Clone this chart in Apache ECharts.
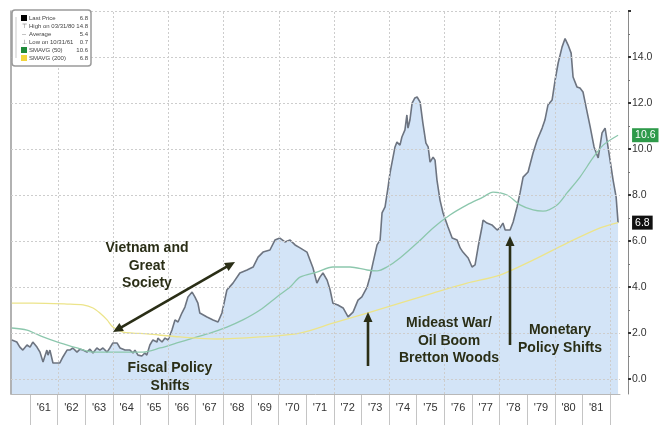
<!DOCTYPE html>
<html>
<head>
<meta charset="utf-8">
<title>Inflation 1961-1982</title>
<script src="https://cdn.jsdelivr.net/npm/echarts@6/dist/echarts.min.js"></script>
<style>
  html, body { margin: 0; padding: 0; background: #fff; }
  #main { width: 667px; height: 425px; }
</style>
</head>
<body>
<div id="main"></div>
<script>
// year strip under the plot
var yearLabels = ["'61", "'62", "'63", "'64", "'65", "'66", "'67", "'68", "'69", "'70", "'71",
  "'72", "'73", "'74", "'75", "'76", "'77", "'78", "'79", "'80", "'81"]

// last price, x = fractional year, y = value
var priceX = [1960.33, 1960.51, 1960.62, 1960.73, 1960.88, 1960.99, 1961.09, 1961.24, 1961.35, 1961.46,
  1961.60, 1961.64, 1961.71, 1961.82, 1961.96, 1962.07, 1962.18, 1962.33, 1962.43, 1962.54,
  1962.69, 1962.80, 1962.91, 1963.05, 1963.16, 1963.27, 1963.41, 1963.52, 1963.63, 1963.78,
  1963.88, 1963.99, 1964.14, 1964.25, 1964.43, 1964.61, 1964.72, 1964.79, 1964.90, 1965.04,
  1965.15, 1965.22, 1965.33, 1965.44, 1965.59, 1965.62, 1965.77, 1965.88, 1965.99, 1966.13,
  1966.24, 1966.35, 1966.49, 1966.60, 1966.71, 1966.86, 1966.96, 1967.07, 1967.14, 1967.40,
  1967.62, 1967.80, 1967.94, 1968.12, 1968.34, 1968.59, 1968.85, 1969.07, 1969.25, 1969.43,
  1969.68, 1969.86, 1970.04, 1970.22, 1970.41, 1970.59, 1970.77, 1971.02, 1971.24, 1971.38,
  1971.49, 1971.60, 1971.75, 1971.86, 1971.96, 1972.14, 1972.33, 1972.51, 1972.69, 1972.87,
  1973.01, 1973.20, 1973.30, 1973.41, 1973.56, 1973.67, 1973.74, 1973.85, 1973.96, 1974.03,
  1974.21, 1974.28, 1974.39, 1974.46, 1974.57, 1974.64, 1974.68, 1974.75, 1974.83, 1974.93,
  1975.01, 1975.12, 1975.22, 1975.33, 1975.41, 1975.48, 1975.59, 1975.66, 1975.73, 1975.84,
  1975.95, 1976.13, 1976.28, 1976.46, 1976.57, 1976.67, 1976.86, 1977.00, 1977.11, 1977.22,
  1977.36, 1977.40, 1977.54, 1977.72, 1977.91, 1978.01, 1978.12, 1978.20, 1978.38, 1978.49,
  1978.63, 1978.74, 1978.85, 1979.03, 1979.21, 1979.36, 1979.54, 1979.64, 1979.75, 1979.90,
  1980.01, 1980.12, 1980.26, 1980.37, 1980.48, 1980.59, 1980.66, 1980.80, 1980.91, 1981.02,
  1981.13, 1981.28, 1981.42, 1981.57, 1981.71, 1981.82, 1981.89, 1982.00, 1982.11, 1982.22,
  1982.29]
var priceY = [1.70, 1.61, 1.39, 1.26, 1.48, 1.39, 1.61, 1.39, 1.17, 0.74,
  1.26, 1.04, 1.26, 0.70, 0.70, 0.70, 0.96, 1.26, 1.26, 1.35,
  1.17, 1.30, 1.26, 1.17, 1.30, 1.13, 1.35, 1.26, 1.35, 1.17,
  1.35, 1.57, 1.57, 1.35, 1.26, 1.26, 1.13, 1.26, 1.04, 1.00,
  1.13, 1.04, 1.48, 1.70, 1.61, 1.78, 1.61, 1.78, 1.70, 2.13,
  2.57, 2.48, 2.87, 3.13, 3.57, 3.78, 3.57, 3.30, 2.87, 2.70,
  2.57, 2.48, 2.87, 3.87, 4.17, 4.61, 4.74, 4.87, 5.30, 5.52,
  5.61, 6.04, 6.13, 5.96, 6.04, 5.83, 5.70, 5.52, 4.83, 4.17,
  4.43, 4.61, 4.30, 3.87, 3.30, 3.22, 3.09, 2.70, 2.91, 3.43,
  3.57, 4.00, 4.43, 5.04, 5.83, 6.04, 7.22, 7.48, 8.35, 8.96,
  10.09, 10.30, 10.17, 10.52, 10.83, 11.48, 10.91, 11.26, 12.00, 12.22,
  12.26, 12.04, 11.13, 10.26, 10.09, 9.43, 9.65, 9.52, 8.65, 7.78,
  7.22, 6.61, 6.13, 6.04, 5.70, 5.52, 5.26, 4.87, 4.96, 5.74,
  6.61, 6.91, 6.78, 6.70, 6.48, 6.57, 6.78, 6.48, 6.48, 6.83,
  7.48, 8.09, 8.78, 9.00, 9.83, 10.39, 10.91, 11.26, 11.91, 12.13,
  13.00, 13.74, 14.43, 14.80, 14.52, 14.17, 13.13, 12.70, 12.65, 12.48,
  11.83, 10.96, 10.09, 9.61, 10.70, 10.91, 10.83, 9.52, 8.65, 7.91,
  6.80]

// moving averages
var sma50X = [1960.33, 1960.88, 1961.46, 1962.07, 1962.69, 1963.27, 1963.88, 1964.50, 1965.08, 1965.70,
  1966.31, 1966.89, 1967.51, 1968.12, 1968.70, 1969.32, 1969.93, 1970.41, 1970.77, 1971.38,
  1971.96, 1972.58, 1973.20, 1973.56, 1973.92, 1974.39, 1975.01, 1975.59, 1976.20, 1976.82,
  1977.40, 1977.76, 1978.27, 1978.74, 1979.21, 1979.57, 1980.08, 1980.44, 1980.91, 1981.38,
  1981.75, 1982.29]
var sma50Y = [2.22, 2.13, 1.83, 1.57, 1.35, 1.17, 1.17, 1.17, 1.17, 1.35,
  1.57, 1.78, 2.00, 2.26, 2.57, 3.00, 3.57, 4.00, 4.43, 4.65,
  4.87, 4.87, 4.74, 4.70, 4.87, 5.26, 5.91, 6.57, 7.13, 7.57,
  7.91, 8.13, 8.00, 7.57, 7.35, 7.30, 7.57, 8.09, 8.78, 9.61,
  10.17, 10.60]
var sma200X = [1960.33, 1961.09, 1962.33, 1962.91, 1963.27, 1963.52, 1963.78, 1963.99, 1964.36, 1964.72,
  1965.22, 1966.42, 1967.76, 1969.32, 1970.77, 1971.96, 1973.20, 1974.39, 1975.59, 1976.82,
  1978.01, 1979.21, 1980.44, 1981.64, 1982.29]
var sma200Y = [3.30, 3.30, 3.26, 3.22, 3.09, 2.87, 2.57, 2.26, 2.04, 2.00,
  1.96, 1.83, 1.74, 1.83, 2.00, 2.43, 2.87, 3.30, 3.74, 4.17,
  4.52, 5.17, 5.91, 6.57, 6.80]

// axis ticks / grid
var gridYears = [1962, 1964, 1966, 1968, 1970, 1972, 1974, 1976, 1978, 1980, 1982]
var majorTicks = [0, 2, 4, 6, 8, 10, 12, 14, 16]
var minorTicks = [1, 3, 5, 7, 9, 11, 13, 15]
var labelTicks = [0, 2, 4, 6, 8, 10, 12, 14]

// legend box
var legendNames = ['Last Price', 'High on 03/31/80', 'Average', 'Low on 10/31/61', 'SMAVG (50)', 'SMAVG (200)']
var legendValues = ['6.8', '14.8', '5.4', '0.7', '10.6', '6.8']

var INK = '#2a2e16'
var FONT = '"Liberation Sans", Arial, sans-serif'
var GRID = { color: '#cdcdcd', type: [2, 2], width: 1 }

function pairs (xs, ys) {
  return xs.map(function (x, i) { return [x, ys[i]] })
}

function arrow (x1, y1, x2, y2, both) {
  // shaft from (x1,y1) to head at (x2,y2)
  var ang = Math.atan2(y2 - y1, x2 - x1)
  var len = 10
  var half = 4.5
  var els = []
  function head (x, y, a) {
    var bx = x - len * Math.cos(a)
    var by = y - len * Math.sin(a)
    var px = -Math.sin(a) * half
    var py = Math.cos(a) * half
    return {
      type: 'polygon',
      z: 50,
      shape: { points: [[x, y], [bx + px, by + py], [bx - px, by - py]] },
      style: { fill: INK }
    }
  }
  var sx = both ? x1 + (len - 2) * Math.cos(ang) : x1
  var sy = both ? y1 + (len - 2) * Math.sin(ang) : y1
  els.push({
    type: 'line',
    z: 50,
    shape: { x1: sx, y1: sy, x2: x2 - (len - 2) * Math.cos(ang), y2: y2 - (len - 2) * Math.sin(ang) },
    style: { stroke: INK, lineWidth: 2.6 }
  })
  els.push(head(x2, y2, ang))
  if (both) els.push(head(x1, y1, ang + Math.PI))
  return els
}

function note (text, x, y) {
  return {
    type: 'text',
    z: 50,
    x: x,
    y: y,
    style: {
      text: text,
      fill: INK,
      font: 'bold 14px ' + FONT,
      align: 'center',
      verticalAlign: 'middle'
    }
  }
}

var graphics = []
// legend
graphics.push({
  type: 'rect',
  z: 50,
  shape: { x: 12, y: 10, width: 79, height: 56, r: 3 },
  style: { fill: '#fff', stroke: '#9a9a9a', lineWidth: 1.5 }
})
graphics.push({
  type: 'line',
  z: 51,
  shape: { x1: 16, y1: 17, x2: 16, y2: 58 },
  style: { stroke: '#bbb', lineWidth: 0.8 }
})
var markerFill = ['#000', null, null, null, '#1f8a3a', '#f2d53c']
var markerText = ['', '\u22a4', '--', '\u22a5', '', '']
legendNames.forEach(function (name, i) {
  var y = 18 + i * 8
  if (markerFill[i]) {
    graphics.push({
      type: 'rect', z: 51,
      shape: { x: 21, y: y - 3, width: 6, height: 6 },
      style: { fill: markerFill[i] }
    })
  } else {
    graphics.push({
      type: 'text', z: 51, x: 24, y: y,
      style: { text: markerText[i], fill: '#666', font: '6px ' + FONT, align: 'center', verticalAlign: 'middle' }
    })
  }
  graphics.push({
    type: 'text', z: 51, x: 29, y: y,
    style: { text: name, fill: '#444', font: '6px ' + FONT, align: 'left', verticalAlign: 'middle' }
  })
  graphics.push({
    type: 'text', z: 51, x: 88, y: y,
    style: { text: legendValues[i], fill: '#444', font: '6px ' + FONT, align: 'right', verticalAlign: 'middle' }
  })
})

// annotations
graphics.push(note('Vietnam and', 147, 248))
graphics.push(note('Great', 147, 266))
graphics.push(note('Society', 147, 283))
graphics.push(note('Fiscal Policy', 170, 368))
graphics.push(note('Shifts', 170, 386))
graphics.push(note('Mideast War/', 449, 323))
graphics.push(note('Oil Boom', 449, 341))
graphics.push(note('Bretton Woods', 449, 358))
graphics.push(note('Monetary', 560, 330))
graphics.push(note('Policy Shifts', 560, 348))
graphics = graphics.concat(arrow(113, 332, 235, 262, true))
graphics = graphics.concat(arrow(368, 366, 368, 312, false))
graphics = graphics.concat(arrow(510, 345, 510, 236, false))

// dotted grid lines as mark lines
var gridLines = majorTicks.map(function (v) { return { yAxis: v } })
  .concat(gridYears.map(function (v) { return { xAxis: v } }))

var myChart = echarts.init(document.getElementById('main'))
var option = {
  animation: false,
  backgroundColor: '#fff',
  textStyle: { fontFamily: FONT },
  grid: [
    { left: 11, right: 47, top: 11, bottom: 31 },
    { left: 30, right: 57, top: 394, height: 31 }
  ],
  xAxis: [
    {
      type: 'value',
      gridIndex: 0,
      min: 1960.3,
      max: 1982.36,
      axisLine: { show: true, onZero: false, lineStyle: { color: '#b8b8b8' } },
      axisTick: { show: false },
      axisLabel: { show: false },
      splitLine: { show: false }
    },
    {
      type: 'category',
      gridIndex: 1,
      position: 'top',
      data: yearLabels,
      axisLine: { show: false },
      axisTick: { show: false },
      axisLabel: { inside: true, margin: 8, color: '#333', fontSize: 11, interval: 0 },
      splitLine: { show: true, interval: 0, lineStyle: { color: '#c4c4c4' } }
    }
  ],
  yAxis: [
    {
      type: 'value',
      gridIndex: 0,
      position: 'right',
      offset: 8,
      min: -0.65,
      max: 16,
      axisLine: { show: true, lineStyle: { color: '#8a8a8a' } },
      axisTick: { show: true, customValues: majorTicks, length: 3, lineStyle: { color: '#333', width: 2 } },
      axisLabel: {
        customValues: labelTicks,
        color: '#333',
        fontSize: 10.5,
        margin: 4,
        formatter: function (v) { return v.toFixed(1) }
      },
      splitLine: { show: false }
    },
    {
      type: 'value',
      gridIndex: 0,
      position: 'right',
      offset: 8,
      min: -0.65,
      max: 16,
      axisLine: { show: false },
      axisTick: { show: true, customValues: minorTicks, length: 2, lineStyle: { color: '#777' } },
      axisLabel: { show: false },
      splitLine: { show: false }
    },
    {
      type: 'value',
      gridIndex: 0,
      position: 'left',
      min: -0.65,
      max: 16,
      axisLine: { show: true, lineStyle: { color: '#999', width: 1.5 } },
      axisTick: { show: false },
      axisLabel: { show: false },
      splitLine: { show: false }
    },
    { type: 'value', gridIndex: 1, show: false }
  ],
  series: [
    {
      name: 'Last Price',
      type: 'line',
      xAxisIndex: 0,
      yAxisIndex: 0,
      data: pairs(priceX, priceY),
      symbol: 'none',
      lineStyle: { color: '#6d7480', width: 1.6 },
      areaStyle: { color: 'rgba(150,190,235,0.6)', origin: 'start' },
      endLabel: {
        show: true,
        distance: 14,
        formatter: function (p) { return p.value[1].toFixed(1) },
        backgroundColor: '#111',
        color: '#fff',
        fontSize: 10.5,
        padding: [2, 3, 1, 3]
      },
      markLine: {
        silent: true,
        symbol: 'none',
        label: { show: false },
        lineStyle: GRID,
        data: gridLines
      },
      z: 2
    },
    {
      name: 'SMAVG (50)',
      type: 'line',
      xAxisIndex: 0,
      yAxisIndex: 0,
      data: pairs(sma50X, sma50Y),
      symbol: 'none',
      smooth: 0.3,
      lineStyle: { color: '#8cc7ad', width: 1.3 },
      endLabel: {
        show: true,
        distance: 14,
        formatter: function (p) { return p.value[1].toFixed(1) },
        backgroundColor: '#2e9a4a',
        color: '#fff',
        fontSize: 10.5,
        padding: [2, 3, 1, 3]
      },
      z: 3
    },
    {
      name: 'SMAVG (200)',
      type: 'line',
      xAxisIndex: 0,
      yAxisIndex: 0,
      data: pairs(sma200X, sma200Y),
      symbol: 'none',
      smooth: 0.3,
      lineStyle: { color: '#ece48a', width: 1.3 },
      z: 3
    }
  ],
  graphic: graphics
}
myChart.setOption(option)
</script>
</body>
</html>
